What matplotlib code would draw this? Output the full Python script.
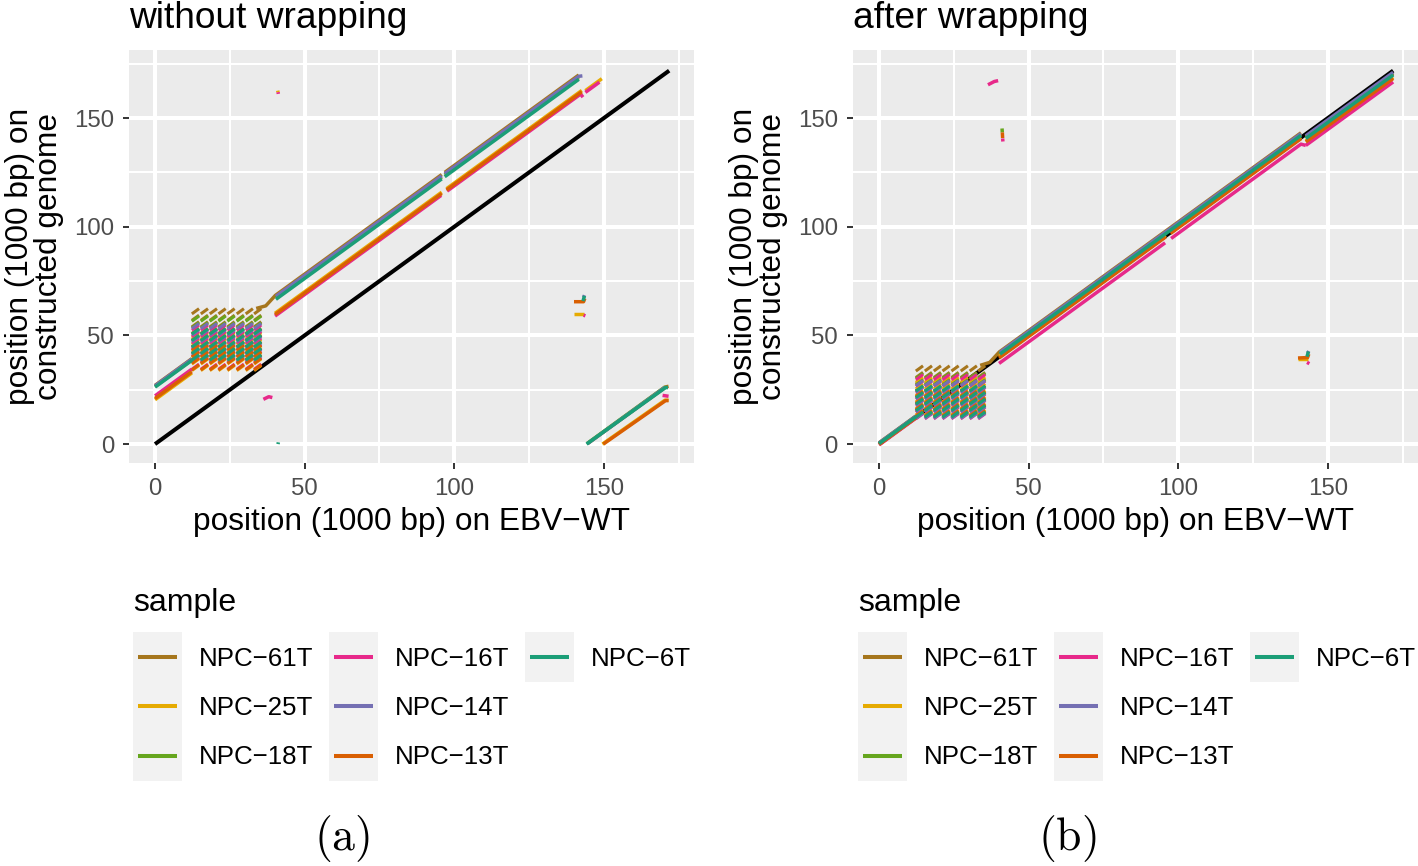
import matplotlib.pyplot as plt
from matplotlib.collections import LineCollection
from matplotlib.patches import Rectangle

plt.rcParams['font.family'] = ['Liberation Sans', 'DejaVu Sans']
plt.rcParams['mathtext.fontset'] = 'cm'

samples = ["NPC−61T", "NPC−25T", "NPC−18T", "NPC−16T", "NPC−14T", "NPC−13T", "NPC−6T"]
colors = ["#A6761D", "#E6AB02", "#66A61E", "#E7298A", "#7570B3", "#D95F02", "#1B9E77"]

ticks = [0, 50, 100, 150]
minor_ticks = [25, 75, 125, 175]
genome_end = 171.8

# W repeat units: start positions on EBV-WT (1000 bp) and aligned length
w_cols = [12.3, 15.3, 18.3, 21.2, 24.2, 27.3, 30.3, 33.1]
w_len = 2.4

# ---------- (a) without wrapping ----------
w_rows_a = {
    "NPC−61T": [38.9, 41.9, 44.9, 47.9, 50.9, 53.9, 56.9, 59.9],
    "NPC−25T": [33.8, 36.8, 39.8, 42.8, 45.8, 48.8],
    "NPC−18T": [38.5, 41.5, 44.5, 47.5, 50.5, 53.5, 56.5],
    "NPC−16T": [34.4, 37.4, 40.4, 43.4, 46.4, 49.4, 52.4],
    "NPC−14T": [38.1, 41.1, 44.1, 47.1, 50.1, 53.1],
    "NPC−13T": [34.1, 37.1, 40.1, 43.1],
    "NPC−6T": [38.6, 41.6, 44.6, 47.6, 50.6],
}

main_a = {
    "NPC−61T": [[(0, 27.0), (12.3, 39.3)],
                [(33.8, 62.4), (37.0, 63.6), (40.2, 68.4), (95.8, 124.0)],
                [(96.8, 125.0), (141.6, 169.8)]],
    "NPC−25T": [[(0, 20.4), (12.3, 32.7)],
                [(40.1, 60.2), (95.8, 115.9)],
                [(97.4, 117.5), (142.6, 162.7)],
                [(143.8, 162.6), (149.3, 168.1)]],
    "NPC−18T": [[(0, 26.5), (12.3, 38.8)],
                [(40.4, 67.4), (95.8, 122.8)],
                [(96.8, 123.8), (141.6, 168.6)]],
    "NPC−16T": [[(0, 22.2), (12.3, 34.5)],
                [(40.1, 58.9), (95.6, 114.4)],
                [(97.6, 116.4), (142.2, 161.0), (143.0, 159.6)],
                [(143.8, 161.8), (148.5, 166.5)]],
    "NPC−14T": [[(0, 26.8), (12.3, 39.1)],
                [(40.4, 68.0), (95.8, 123.4)],
                [(96.8, 124.4), (141.6, 169.2), (142.8, 169.4)]],
    "NPC−13T": [[(0, 21.0), (12.3, 33.3)],
                [(40.1, 59.6), (95.8, 115.3)],
                [(97.4, 116.9), (142.6, 162.1)]],
    "NPC−6T": [[(0, 26.2), (12.3, 38.5)],
               [(40.4, 66.6), (95.8, 122.0)],
               [(96.8, 123.0), (141.6, 167.8)]],
}

# genome start that sits after the EBV-WT end when not wrapped
wrap_a = {
    "NPC−61T": [[(144.6, 0.3), (170.6, 26.3), (171.6, 26.6)]],
    "NPC−25T": [[(149.5, 0.0), (170.4, 20.2), (171.6, 20.2)]],
    "NPC−18T": [[(144.3, 0.2), (170.5, 26.4)]],
    "NPC−16T": [[(169.6, 22.4), (171.6, 22.0)]],
    "NPC−14T": [[(144.4, 0.1), (170.4, 26.1)]],
    "NPC−13T": [[(149.8, 0.0), (170.6, 20.0), (171.6, 20.0)]],
    "NPC−6T": [[(144.2, 0.0), (170.6, 26.0), (171.4, 26.0)]],
}

bits_a = {
    "NPC−25T": [[(140.0, 59.7), (143.4, 59.7)], [(41.0, 162.6), (41.1, 161.9)]],
    "NPC−16T": [[(143.2, 59.3), (143.8, 59.0)],
                [(36.2, 20.6), (38.0, 21.8), (39.2, 21.4)],
                [(41.1, 161.9), (41.2, 161.1)]],
    "NPC−14T": [[(143.2, 67.5), (143.5, 68.5)]],
    "NPC−13T": [[(140.0, 65.5), (143.2, 65.5), (143.6, 67.0)]],
    "NPC−6T": [[(143.0, 65.8), (143.5, 68.2)], [(41.1, 0.0), (41.2, 0.8)]],
}

# ---------- (b) after wrapping ----------
w_rows_b = {
    "NPC−61T": [12.6, 15.6, 18.6, 21.6, 24.6, 27.6, 30.6, 33.6],
    "NPC−25T": [13.4, 16.4, 19.4, 22.4, 25.4, 28.4],
    "NPC−18T": [12.2, 15.2, 18.2, 21.2, 24.2, 27.2, 30.2],
    "NPC−16T": [11.6, 14.6, 17.6, 20.6, 23.6, 26.6, 29.6],
    "NPC−14T": [11.8, 14.8, 17.8, 20.8, 23.8, 26.8],
    "NPC−13T": [12.9, 15.9, 18.9, 21.9],
    "NPC−6T": [12.4, 15.4, 18.4, 21.4, 24.4],
}

main_b = {
    "NPC−61T": [[(0, 0.6), (12.3, 12.9)],
                [(33.8, 36.2), (37.0, 37.6), (40.2, 42.4), (141.0, 143.2)],
                [(142.6, 141.4), (171.8, 170.6)]],
    "NPC−25T": [[(0, 0.0), (12.3, 12.3)],
                [(40.1, 40.3), (95.8, 96.0)],
                [(97.4, 97.6), (141.0, 141.2)],
                [(142.6, 139.6), (171.8, 168.8)]],
    "NPC−18T": [[(0, 0.4), (12.3, 12.7)],
                [(40.4, 41.8), (141.0, 142.4)],
                [(142.6, 141.0), (171.8, 170.2)]],
    "NPC−16T": [[(0, -0.4), (12.3, 11.9)],
                [(40.1, 37.1), (95.6, 92.6)],
                [(97.6, 94.6), (141.0, 138.0), (142.6, 137.4)],
                [(142.6, 137.4), (171.8, 166.6)]],
    "NPC−14T": [[(0, 0.5), (12.3, 12.8)],
                [(40.4, 42.2), (141.0, 142.8)],
                [(142.6, 141.8), (171.8, 171.0)]],
    "NPC−13T": [[(0, -0.2), (12.3, 12.1)],
                [(40.1, 39.6), (95.8, 95.3)],
                [(97.4, 96.9), (141.0, 140.5)],
                [(142.6, 139.0), (171.8, 168.2)]],
    "NPC−6T": [[(0, 0.2), (12.3, 12.5)],
               [(40.4, 41.4), (141.0, 142.0)],
               [(142.6, 140.6), (171.8, 169.8)]],
}

bits_b = {
    "NPC−25T": [[(140.0, 39.2), (143.4, 39.2)]],
    "NPC−18T": [[(41.1, 145.2), (41.2, 143.4)]],
    "NPC−16T": [[(36.4, 165.3), (38.5, 166.8), (39.8, 167.2)],
                [(41.3, 140.6), (41.4, 139.2)],
                [(143.0, 37.6), (143.8, 37.0)]],
    "NPC−14T": [[(143.2, 41.8), (143.6, 42.8)]],
    "NPC−13T": [[(41.2, 143.4), (41.3, 140.8)],
                [(140.0, 39.6), (143.2, 39.8), (143.6, 41.4)]],
    "NPC−6T": [[(143.0, 40.2), (143.5, 42.6)]],
}

fig = plt.figure(figsize=(14.18, 8.66), dpi=100)
W, H = 1418, 866
ax_a = fig.add_axes([129 / W, 1 - 463 / H, 565 / W, 413 / H])
ax_b = fig.add_axes([853 / W, 1 - 463 / H, 565 / W, 413 / H])

LW = 2.5


def draw_panel(ax, title, rows, main, extra):
    ax.set_facecolor('#EBEBEB')
    ax.set_xlim(-8.7, 180.1)
    ax.set_ylim(-8.7, 181.3)
    ax.set_xticks(ticks)
    ax.set_yticks(ticks)
    ax.set_xticks(minor_ticks, minor=True)
    ax.set_yticks(minor_ticks, minor=True)
    ax.grid(which='major', color='white', lw=2.9)
    ax.grid(which='minor', color='white', lw=1.45)
    ax.set_axisbelow(True)
    for s in ax.spines.values():
        s.set_visible(False)
    ax.tick_params(which='major', length=4.3, width=1.4, color='#333333',
                   labelsize=17.3, labelcolor='#4D4D4D', pad=6.5)
    ax.tick_params(which='minor', length=0)

    ax.plot([0, genome_end], [0, genome_end], color='black', lw=2.9,
            solid_capstyle='butt', zorder=2)

    for name, col in zip(samples, colors):
        dashes = [[(c, r), (c + w_len, r + w_len)] for c in w_cols for r in rows[name]]
        ax.add_collection(LineCollection(dashes, colors=col, linewidths=2.2,
                                         capstyle='butt', zorder=3))
        segs = list(main[name])
        for d in extra:
            segs += d.get(name, [])
        ax.add_collection(LineCollection(segs, colors=col, linewidths=LW,
                                         capstyle='butt', joinstyle='round', zorder=3))

    ax.set_title(title, loc='left', fontsize=26.7, pad=16)
    ax.set_xlabel("position (1000 bp) on EBV−WT", fontsize=22.8, labelpad=5)
    ax.set_ylabel("position (1000 bp) on\nconstructed genome", fontsize=22.8,
                  labelpad=7, linespacing=0.95)


draw_panel(ax_a, "without wrapping", w_rows_a, main_a, [wrap_a, bits_a])
draw_panel(ax_b, "after wrapping", w_rows_b, main_b, [bits_b])

# legends, drawn in figure pixel space
lax = fig.add_axes([0, 0, 1, 1])
lax.set_xlim(0, W)
lax.set_ylim(H, 0)
lax.axis('off')
for x0 in (133, 858):
    lax.text(x0, 603, "sample", fontsize=23, va='center', ha='left')
    for i, (name, col) in enumerate(zip(samples, colors)):
        cx = x0 + 196 * (i // 3)
        cy = 632 + 49.5 * (i % 3)
        lax.add_patch(Rectangle((cx, cy), 49, 49.5, facecolor='#F2F2F2', edgecolor='none'))
        lax.plot([cx + 5, cx + 44], [cy + 24.75, cy + 24.75], color=col, lw=2.9,
                 solid_capstyle='butt')
        lax.text(cx + 66, cy + 26.5, name, fontsize=18.6, va='center', ha='left')

fig.text(342 / W, 1 - 838 / H, r'$\mathrm{(a)}$', fontsize=33, ha='center', va='center')
fig.text(1067 / W, 1 - 838 / H, r'$\mathrm{(b)}$', fontsize=33, ha='center', va='center')

fig.savefig("out.png", dpi=100)
